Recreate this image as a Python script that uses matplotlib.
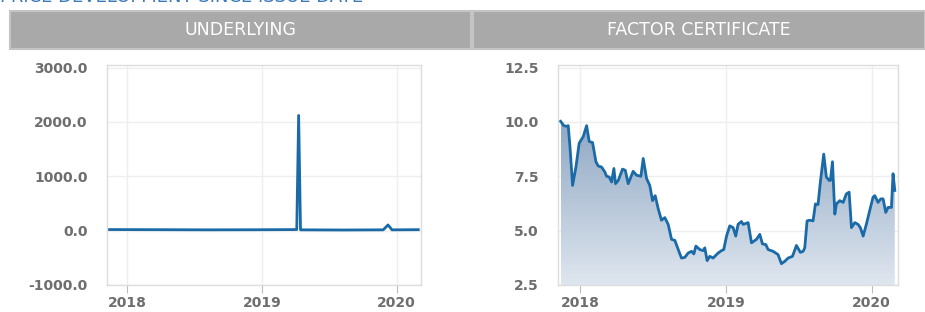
import matplotlib
matplotlib.use("Agg")
import matplotlib.pyplot as plt
import numpy as np
from matplotlib.patches import Rectangle

# Underlying (decimal years / price)
und_years = [2017.86, 2018.20, 2018.60, 2019.00, 2019.258, 2019.272, 2019.286,
             2019.60, 2019.90, 2019.935, 2019.965, 2020.16]
und_values = [20, 18, 15, 17, 20, 2120, 15, 12, 15, 105, 15, 18]

# Factor certificate (decimal years / price)
fc_years = [2017.868, 2017.890, 2017.909, 2017.920, 2017.932, 2017.950, 2017.973,
            2017.995, 2018.023, 2018.046, 2018.064, 2018.087, 2018.110, 2018.126,
            2018.148, 2018.171, 2018.183, 2018.201, 2018.217, 2018.233, 2018.244,
            2018.263, 2018.292, 2018.311, 2018.331, 2018.365, 2018.388, 2018.418,
            2018.434, 2018.457, 2018.479, 2018.498, 2018.516, 2018.537, 2018.559,
            2018.582, 2018.605, 2018.628, 2018.651, 2018.674, 2018.696, 2018.719,
            2018.742, 2018.765, 2018.781, 2018.795, 2018.822, 2018.845, 2018.856,
            2018.872, 2018.890, 2018.913, 2018.947, 2018.970, 2018.986, 2019.005,
            2019.027, 2019.050, 2019.068, 2019.084, 2019.107, 2019.119, 2019.153,
            2019.176, 2019.210, 2019.233, 2019.251, 2019.274, 2019.290, 2019.324,
            2019.358, 2019.381, 2019.404, 2019.427, 2019.457, 2019.484, 2019.511,
            2019.530, 2019.541, 2019.557, 2019.575, 2019.598, 2019.614, 2019.632,
            2019.648, 2019.671, 2019.689, 2019.708, 2019.717, 2019.731, 2019.747,
            2019.758, 2019.781, 2019.804, 2019.826, 2019.845, 2019.861, 2019.884,
            2019.906, 2019.922, 2019.941, 2019.963, 2019.986, 2020.009, 2020.021,
            2020.043, 2020.062, 2020.078, 2020.096, 2020.112, 2020.135, 2020.146,
            2020.158]
fc_values = [10.03, 9.83, 9.80, 9.83, 8.87, 7.08, 7.93, 9.02, 9.33, 9.83, 9.10,
             9.05, 8.17, 7.97, 7.93, 7.70, 7.50, 7.47, 7.24, 7.86, 7.16, 7.31,
             7.83, 7.78, 7.16, 7.73, 7.55, 7.50, 8.32, 7.40, 7.08, 6.38, 6.61,
             6.00, 5.48, 5.60, 5.29, 4.60, 4.55, 4.13, 3.74, 3.77, 3.97, 4.05,
             3.93, 4.29, 4.13, 4.08, 4.21, 3.62, 3.82, 3.74, 3.97, 4.08, 4.13,
             4.75, 5.22, 5.14, 4.75, 5.29, 5.42, 5.29, 5.37, 4.44, 4.60, 4.83,
             4.39, 4.36, 4.13, 4.05, 3.90, 3.48, 3.59, 3.74, 3.82, 4.32, 4.00,
             4.05, 4.21, 5.45, 5.48, 5.45, 6.23, 6.20, 7.24, 8.52, 7.47, 7.31,
             7.31, 8.17, 5.76, 6.23, 6.38, 6.30, 6.69, 6.77, 5.14, 5.37, 5.29,
             5.14, 4.75, 5.29, 5.92, 6.54, 6.61, 6.30, 6.46, 6.46, 5.84, 6.07,
             6.07, 7.62, 6.85]

headers = ["UNDERLYING", "FACTOR CERTIFICATE"]
year_ticks = [2018, 2019, 2020]

LINE = "#1a6aa8"
TEXT = "#6e6e6e"

fig = plt.figure(figsize=(9.25, 3.12), dpi=100)
W, H = 925, 312


def fx(px):
    return px / W


def fy(py):
    return 1 - py / H


# page title, cut off at the top
fig.text(fx(0), fy(-3), "PRICE DEVELOPMENT SINCE ISSUE DATE", color="#3d7ab8",
         fontsize=13, ha="left", va="center")

# header boxes
for (x0, x1), label in zip([(10, 471), (473, 925)], headers):
    fig.patches.append(Rectangle((fx(x0), fy(49)), fx(x1 - x0), (49 - 11) / H,
                                 transform=fig.transFigure, facecolor="#a9a9a9",
                                 edgecolor="#c4c4c4", linewidth=1.5))
    fig.text(fx((x0 + x1) / 2), fy(30), label, color="white", fontsize=12.5,
             ha="center", va="center")


def style(ax, yticks):
    ax.set_xlim(2017.85, 2020.18)
    ax.set_xticks(year_ticks)
    ax.set_xticklabels([str(y) for y in year_ticks])
    ax.set_yticks(yticks)
    ax.set_yticklabels([f"{v:.1f}" for v in yticks])
    ax.set_ylim(yticks[0], yticks[-1] + (yticks[-1] - yticks[0]) * 0.012)
    ax.grid(True, color="#eeeeee", linewidth=1)
    ax.set_axisbelow(True)
    for s in ax.spines.values():
        s.set_color("#dddddd")
        s.set_linewidth(1)
    ax.tick_params(axis="x", length=6, color="#bbbbbb", labelcolor=TEXT,
                   labelsize=10, pad=2)
    ax.tick_params(axis="y", length=0, labelcolor=TEXT, labelsize=10, pad=14)
    for t in ax.get_xticklabels() + ax.get_yticklabels():
        t.set_fontweight("semibold")


# left: underlying
ax1 = fig.add_axes([fx(107), fy(285), fx(421 - 107), (285 - 65) / H])
style(ax1, [-1000, 0, 1000, 2000, 3000])
ax1.plot(und_years, und_values, color=LINE, linewidth=2)

# right: factor certificate with gradient area
ax2 = fig.add_axes([fx(558), fy(285), fx(898 - 558), (285 - 65) / H])
style(ax2, [2.5, 5.0, 7.5, 10.0, 12.5])
poly = ax2.fill_between(fc_years, fc_values, 2.5, color="none")
grad = np.linspace(0, 1, 256).reshape(-1, 1)
cmap = matplotlib.colors.LinearSegmentedColormap.from_list(
    "g", ["#dfe6ef", "#8ea7c3"])
img = ax2.imshow(grad, extent=[fc_years[0], fc_years[-1], 2.5, 10.1],
                 origin="lower", aspect="auto", cmap=cmap, zorder=1)
img.set_clip_path(poly.get_paths()[0], transform=ax2.transData)
ax2.set_xlim(2017.85, 2020.18)
ax2.set_ylim(2.5, 12.62)
ax2.plot(fc_years, fc_values, color=LINE, linewidth=2, zorder=3)

fig.savefig("out.png", dpi=100)
